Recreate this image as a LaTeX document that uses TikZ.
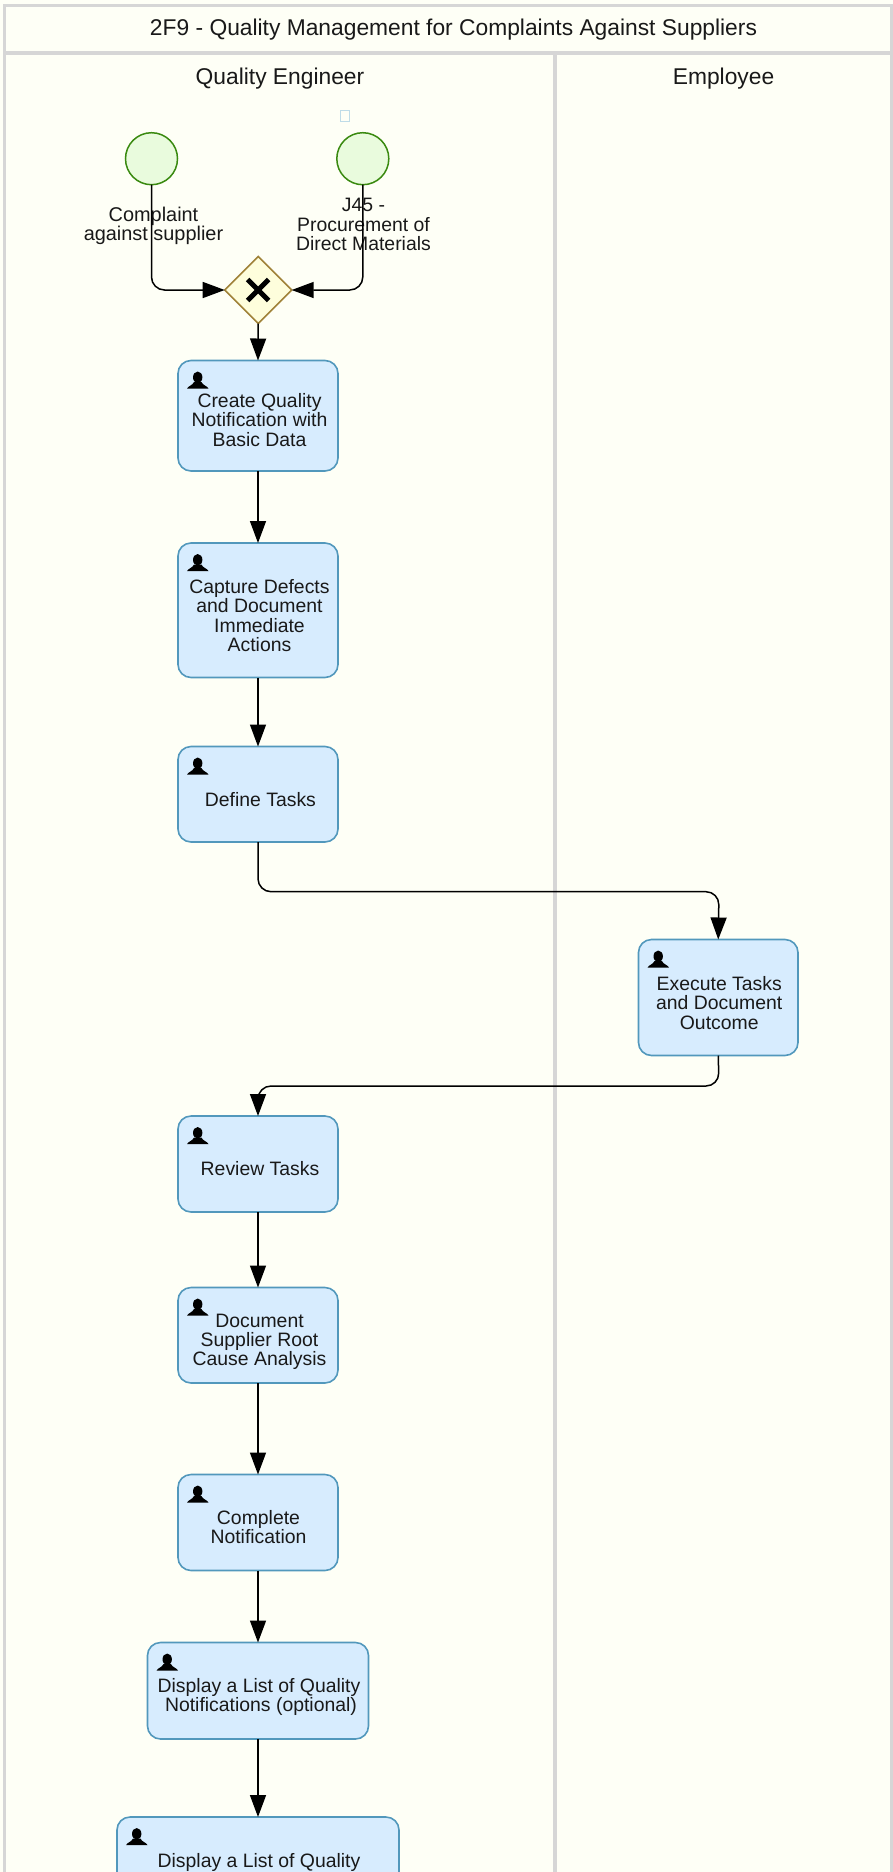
\documentclass[tikz,border=0pt]{standalone}
\usepackage{fontspec}
\setmainfont{Liberation Sans}
\usetikzlibrary{arrows.meta,shapes.geometric,calc}
\definecolor{bgc}{HTML}{FEFFF6}
\definecolor{lanec}{HTML}{D6D6D6}
\definecolor{taskf}{HTML}{D7ECFE}
\definecolor{taskd}{HTML}{5298BC}
\definecolor{startf}{HTML}{E9FBDD}
\definecolor{startd}{HTML}{3A8A10}
\definecolor{gwf}{HTML}{FEFEDC}
\definecolor{gwd}{HTML}{A08238}
\definecolor{tofu}{HTML}{BFDCE8}
\tikzset{
  x=1pt,y=-1pt,
  lane/.style={draw=lanec,line width=3.2pt},
  laneh/.style={font=\fontsize{22.8}{24}\selectfont,text=black!90,inner sep=0pt},
  evt/.style={circle,draw=startd,fill=startf,line width=1.5pt,minimum size=52pt,inner sep=0pt,outer sep=0pt},
  gw/.style={diamond,draw=gwd,fill=gwf,line width=1.5pt,minimum width=67pt,minimum height=67pt,inner sep=0pt,outer sep=0pt},
  taskbox/.style={draw=taskd,fill=taskf,line width=1.6pt,rounded corners=13pt,inner sep=0pt,outer sep=0pt},
  lbl/.style={align=center,font=\fontsize{19.4}{19.2}\selectfont,text=black!90,inner sep=0pt},
  flow/.style={draw=black,line width=1.5pt,rounded corners=13pt,-{Triangle[length=22pt,width=16pt]}},
}
% #1 text x shift, #2 name, #3 left, #4 top, #5 right, #6 bottom, #7 text centre y, #8 text
\newcommand{\taskn}[8][0]{%
  \node[taskbox,anchor=north west,minimum width=#5pt-#3pt,minimum height=#6pt-#4pt] (#2) at (#3,#4) {};
  \begin{scope}[shift={(#3,#4)}]
    \fill[black] (19.7,16.8) ellipse (4.7 and 5.8);
    \fill[black] (9,28.2) .. controls (10,25.5) and (14.5,25) .. (16,21.5) -- (23.4,21.5) .. controls (24.9,25) and (29.6,25.5) .. (30.6,28.2) -- cycle;
  \end{scope}
  \node[lbl] (#2t) at ($(#3,0)!0.5!(#5,0)+(#1,#7)$) {#8};
}
\begin{document}
\begin{tikzpicture}
\useasboundingbox (0,0) rectangle (893,1872);
\fill[bgc] (0,0) rectangle (893,1872);
\draw[lane] (4.7,1872) -- (4.7,5.3) -- (892,5.3) -- (892,1872);
\draw[lane] (4.7,53) -- (892,53);
\draw[lane] (555,53) -- (555,1872);
\node[laneh] (title) at (453.5,30) {2F9 - Quality Management for Complaints Against Suppliers};
\node[laneh] (qe) at (280,78.5) {Quality Engineer};
\node[laneh] (em) at (723.5,78.5) {Employee};

\node[draw=tofu,line width=1pt,minimum width=9pt,minimum height=11pt,inner sep=0pt] (tf) at (345,116) {};
\node[evt] (s1) at (151.5,158.7) {};
\node[evt] (s2) at (362.8,158.7) {};
\node[lbl,font=\fontsize{19.9}{19.2}\selectfont] (s1t) at (153.5,225.5) {Complaint\\against supplier};
\node[lbl] (s2t) at (363.5,224.5) {J45 -\\Procurement of\\Direct Materials};
\node[gw] (g) at (258.2,290) {};
\draw[line width=5pt] (247.7,279.5) -- (268.7,300.5) (268.7,279.5) -- (247.7,300.5);

\taskn[1.5]{t1}{178}{360.5}{338}{471}{420}{Create Quality\\Notification with\\Basic Data}
\taskn[1.5]{t2}{178}{543}{338}{677.5}{615.5}{Capture Defects\\and Document\\Immediate\\Actions}
\taskn[2.4]{t3}{178}{746.5}{338}{842}{799.5}{Define Tasks}
\taskn[1]{t4}{638.5}{939.5}{798}{1055.5}{1003}{Execute Tasks\\and Document\\Outcome}
\taskn[2]{t5}{178}{1116}{338}{1212}{1168.5}{Review Tasks}
\taskn[1.5]{t6}{178}{1287.5}{338}{1383}{1342}{Document\\Supplier Root\\Cause Analysis}
\taskn[0.5]{t7}{178}{1474.5}{338}{1570.5}{1527}{Complete\\Notification}
\taskn[1]{t8}{147.5}{1642.5}{368.5}{1739}{1697}{Display a List of Quality\\\hspace*{4pt}Notifications (optional)}
\taskn[1]{t9}{117}{1817}{399}{1960}{1862}{Display a List of Quality}

\draw[flow] (s1.south) |- (g.west);
\draw[flow] (s2.south) |- (g.east);
\draw[flow] (g.south) -- (t1.north);
\draw[flow] (t1.south) -- (t2.north);
\draw[flow] (t2.south) -- (t3.north);
\coordinate (m1) at (258,891.7);
\coordinate (m2) at (719,891.7);
\draw[flow] (t3.south) -- (m1) -- (m2) -- (t4.north);
\coordinate (m3) at (719,1086);
\coordinate (m4) at (258,1086);
\draw[flow] (t4.south) -- (m3) -- (m4) -- (t5.north);
\draw[flow] (t5.south) -- (t6.north);
\draw[flow] (t6.south) -- (t7.north);
\draw[flow] (t7.south) -- (t8.north);
\draw[flow] (t8.south) -- (t9.north);
\end{tikzpicture}
\end{document}
